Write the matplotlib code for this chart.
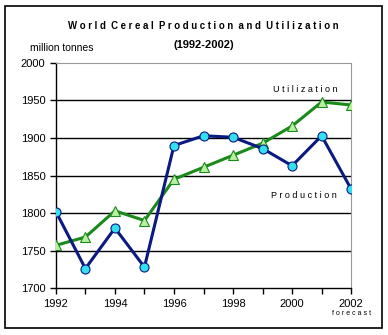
# World cereal production and utilization (1992-2002)
import matplotlib
matplotlib.use('Agg')
import matplotlib.pyplot as plt
from matplotlib.patches import Rectangle

# データ
years = [1992, 1993, 1994, 1995, 1996, 1997, 1998, 1999, 2000, 2001, 2002]
production = [1802, 1726, 1780, 1728, 1890, 1903, 1901, 1886, 1863, 1903, 1832]
utilization = [1757, 1768, 1803, 1790, 1845, 1861, 1877, 1893, 1916, 1948, 1944]
y_ticks = [1700, 1750, 1800, 1850, 1900, 1950, 2000]
x_labels = [1992, 1994, 1996, 1998, 2000, 2002]

plt.rcParams['font.family'] = ['Liberation Sans', 'DejaVu Sans']

fig = plt.figure(figsize=(3.88, 3.35), dpi=100)
ax = fig.add_axes([0.144, 0.140, 0.761, 0.672])

# 外枠
fig.patches.append(Rectangle((5 / 388, 7 / 335), 377 / 388, 322 / 335,
                             transform=fig.transFigure, fill=False,
                             edgecolor='black', linewidth=1.2))

for y in y_ticks[1:-1]:
    ax.axhline(y, color='black', linewidth=1, zorder=1)

ax.plot(years, utilization, color='#1a8a1a', linewidth=2.2, marker='^',
        markersize=7, markerfacecolor='#b8f0a0', markeredgecolor='#1a8a1a',
        markeredgewidth=0.8, zorder=3)
ax.plot(years, production, color='#0a1a80', linewidth=2.2, marker='o',
        markersize=6.5, markerfacecolor='#33e0f0', markeredgecolor='#0a1a80',
        markeredgewidth=0.8, zorder=4)

ax.set_xlim(1992, 2002)
ax.set_ylim(1700, 2000)
ax.set_yticks(y_ticks)
ax.set_xticks(years, minor=True)
ax.set_xticks(x_labels)
ax.tick_params(axis='both', labelsize=8, direction='out', length=4, width=1)
ax.tick_params(axis='x', which='minor', length=4, width=1)

for s in ['top', 'right']:
    ax.spines[s].set_color('#999999')
for s in ['left', 'bottom']:
    ax.spines[s].set_color('black')
    ax.spines[s].set_linewidth(1)

ax.text(2001.55, 1958, 'U t i l i z a t i o n', ha='right', va='bottom', fontsize=6.5)
ax.text(2001.5, 1818, 'P r o d u c t i o n', ha='right', va='bottom', fontsize=6.5)
ax.text(2002.0, 1666, 'f o r e c a s t', ha='center', va='center', fontsize=5,
        clip_on=False)

fig.text(0.525, 0.922, 'W o r l d  C e r e a l  P r o d u c t i o n  a n d  U t i l i z a t i o n',
         ha='center', va='center', fontsize=6.9, fontweight='bold')
fig.text(0.525, 0.865, '(1992-2002)', ha='center', va='center', fontsize=8,
         fontweight='bold')
fig.text(0.078, 0.857, 'million tonnes', ha='left', va='center', fontsize=7.5)

fig.savefig('out.png', dpi=100)
